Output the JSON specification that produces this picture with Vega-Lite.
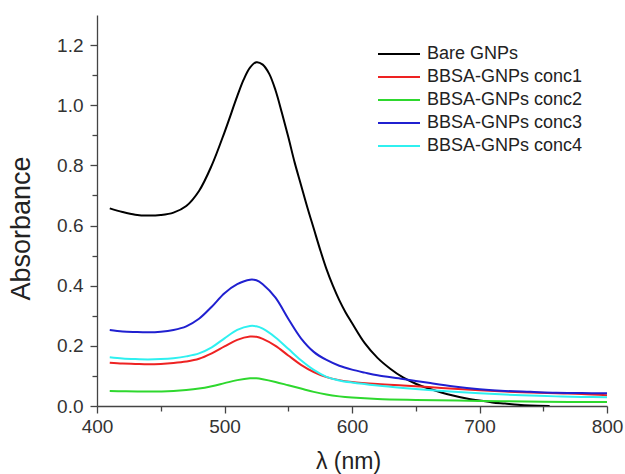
{
  "$schema": "https://vega.github.io/schema/vega-lite/v6.json",
  "width": 510,
  "height": 391,
  "autosize": "none",
  "padding": {"left": 97, "top": 15, "right": 18, "bottom": 68},
  "background": "white",
  "config": {
    "view": {"stroke": null},
    "font": "Liberation Sans",
    "axis": {"grid": false, "domainColor": "#444", "tickColor": "#444", "labelColor": "#333", "titleColor": "#222", "labelFont": "Liberation Sans", "titleFont": "Liberation Sans", "titleFontWeight": "normal", "labelFontSize": 19, "domainWidth": 1.3, "tickWidth": 1.3, "labelFlush": false}
  },
  "datasets": {
    "spectra": [
      {"s": "Bare GNPs", "x": 410, "y": 0.657}, {"s": "Bare GNPs", "x": 420, "y": 0.645}, {"s": "Bare GNPs", "x": 430, "y": 0.636}, {"s": "Bare GNPs", "x": 440, "y": 0.633}, {"s": "Bare GNPs", "x": 450, "y": 0.635}, {"s": "Bare GNPs", "x": 460, "y": 0.643}, {"s": "Bare GNPs", "x": 470, "y": 0.665}, {"s": "Bare GNPs", "x": 480, "y": 0.715}, {"s": "Bare GNPs", "x": 490, "y": 0.80}, {"s": "Bare GNPs", "x": 500, "y": 0.91}, {"s": "Bare GNPs", "x": 510, "y": 1.03}, {"s": "Bare GNPs", "x": 515, "y": 1.085}, {"s": "Bare GNPs", "x": 520, "y": 1.125}, {"s": "Bare GNPs", "x": 525, "y": 1.143}, {"s": "Bare GNPs", "x": 530, "y": 1.135}, {"s": "Bare GNPs", "x": 535, "y": 1.105}, {"s": "Bare GNPs", "x": 540, "y": 1.05}, {"s": "Bare GNPs", "x": 545, "y": 0.975}, {"s": "Bare GNPs", "x": 550, "y": 0.895}, {"s": "Bare GNPs", "x": 555, "y": 0.81}, {"s": "Bare GNPs", "x": 560, "y": 0.735}, {"s": "Bare GNPs", "x": 565, "y": 0.66}, {"s": "Bare GNPs", "x": 570, "y": 0.59}, {"s": "Bare GNPs", "x": 575, "y": 0.52}, {"s": "Bare GNPs", "x": 580, "y": 0.455}, {"s": "Bare GNPs", "x": 585, "y": 0.4}, {"s": "Bare GNPs", "x": 590, "y": 0.352}, {"s": "Bare GNPs", "x": 595, "y": 0.311}, {"s": "Bare GNPs", "x": 600, "y": 0.276}, {"s": "Bare GNPs", "x": 610, "y": 0.209}, {"s": "Bare GNPs", "x": 620, "y": 0.16}, {"s": "Bare GNPs", "x": 630, "y": 0.124}, {"s": "Bare GNPs", "x": 640, "y": 0.095}, {"s": "Bare GNPs", "x": 650, "y": 0.074}, {"s": "Bare GNPs", "x": 660, "y": 0.058}, {"s": "Bare GNPs", "x": 670, "y": 0.045}, {"s": "Bare GNPs", "x": 680, "y": 0.034}, {"s": "Bare GNPs", "x": 690, "y": 0.025}, {"s": "Bare GNPs", "x": 700, "y": 0.018}, {"s": "Bare GNPs", "x": 710, "y": 0.012}, {"s": "Bare GNPs", "x": 720, "y": 0.008}, {"s": "Bare GNPs", "x": 730, "y": 0.004}, {"s": "Bare GNPs", "x": 740, "y": 0.0015}, {"s": "Bare GNPs", "x": 755, "y": 0.0},

      {"s": "BBSA-GNPs conc1", "x": 410, "y": 0.144}, {"s": "BBSA-GNPs conc1", "x": 420, "y": 0.141}, {"s": "BBSA-GNPs conc1", "x": 430, "y": 0.14}, {"s": "BBSA-GNPs conc1", "x": 440, "y": 0.139}, {"s": "BBSA-GNPs conc1", "x": 450, "y": 0.14}, {"s": "BBSA-GNPs conc1", "x": 460, "y": 0.143}, {"s": "BBSA-GNPs conc1", "x": 470, "y": 0.148}, {"s": "BBSA-GNPs conc1", "x": 480, "y": 0.157}, {"s": "BBSA-GNPs conc1", "x": 490, "y": 0.175}, {"s": "BBSA-GNPs conc1", "x": 500, "y": 0.198}, {"s": "BBSA-GNPs conc1", "x": 510, "y": 0.22}, {"s": "BBSA-GNPs conc1", "x": 520, "y": 0.231}, {"s": "BBSA-GNPs conc1", "x": 525, "y": 0.23}, {"s": "BBSA-GNPs conc1", "x": 530, "y": 0.223}, {"s": "BBSA-GNPs conc1", "x": 540, "y": 0.2}, {"s": "BBSA-GNPs conc1", "x": 550, "y": 0.168}, {"s": "BBSA-GNPs conc1", "x": 560, "y": 0.137}, {"s": "BBSA-GNPs conc1", "x": 570, "y": 0.113}, {"s": "BBSA-GNPs conc1", "x": 580, "y": 0.096}, {"s": "BBSA-GNPs conc1", "x": 590, "y": 0.086}, {"s": "BBSA-GNPs conc1", "x": 600, "y": 0.08}, {"s": "BBSA-GNPs conc1", "x": 620, "y": 0.073}, {"s": "BBSA-GNPs conc1", "x": 640, "y": 0.068}, {"s": "BBSA-GNPs conc1", "x": 660, "y": 0.063}, {"s": "BBSA-GNPs conc1", "x": 680, "y": 0.057}, {"s": "BBSA-GNPs conc1", "x": 700, "y": 0.052}, {"s": "BBSA-GNPs conc1", "x": 720, "y": 0.048}, {"s": "BBSA-GNPs conc1", "x": 740, "y": 0.045}, {"s": "BBSA-GNPs conc1", "x": 760, "y": 0.042}, {"s": "BBSA-GNPs conc1", "x": 780, "y": 0.04}, {"s": "BBSA-GNPs conc1", "x": 800, "y": 0.036},

      {"s": "BBSA-GNPs conc2", "x": 410, "y": 0.05}, {"s": "BBSA-GNPs conc2", "x": 420, "y": 0.049}, {"s": "BBSA-GNPs conc2", "x": 440, "y": 0.048}, {"s": "BBSA-GNPs conc2", "x": 460, "y": 0.05}, {"s": "BBSA-GNPs conc2", "x": 470, "y": 0.053}, {"s": "BBSA-GNPs conc2", "x": 480, "y": 0.058}, {"s": "BBSA-GNPs conc2", "x": 490, "y": 0.066}, {"s": "BBSA-GNPs conc2", "x": 500, "y": 0.076}, {"s": "BBSA-GNPs conc2", "x": 510, "y": 0.086}, {"s": "BBSA-GNPs conc2", "x": 520, "y": 0.092}, {"s": "BBSA-GNPs conc2", "x": 525, "y": 0.092}, {"s": "BBSA-GNPs conc2", "x": 530, "y": 0.089}, {"s": "BBSA-GNPs conc2", "x": 540, "y": 0.08}, {"s": "BBSA-GNPs conc2", "x": 550, "y": 0.069}, {"s": "BBSA-GNPs conc2", "x": 560, "y": 0.058}, {"s": "BBSA-GNPs conc2", "x": 570, "y": 0.047}, {"s": "BBSA-GNPs conc2", "x": 580, "y": 0.038}, {"s": "BBSA-GNPs conc2", "x": 590, "y": 0.032}, {"s": "BBSA-GNPs conc2", "x": 600, "y": 0.028}, {"s": "BBSA-GNPs conc2", "x": 620, "y": 0.023}, {"s": "BBSA-GNPs conc2", "x": 650, "y": 0.02}, {"s": "BBSA-GNPs conc2", "x": 700, "y": 0.017}, {"s": "BBSA-GNPs conc2", "x": 750, "y": 0.014}, {"s": "BBSA-GNPs conc2", "x": 800, "y": 0.013},

      {"s": "BBSA-GNPs conc3", "x": 410, "y": 0.253}, {"s": "BBSA-GNPs conc3", "x": 420, "y": 0.248}, {"s": "BBSA-GNPs conc3", "x": 430, "y": 0.246}, {"s": "BBSA-GNPs conc3", "x": 440, "y": 0.245}, {"s": "BBSA-GNPs conc3", "x": 450, "y": 0.247}, {"s": "BBSA-GNPs conc3", "x": 460, "y": 0.253}, {"s": "BBSA-GNPs conc3", "x": 470, "y": 0.265}, {"s": "BBSA-GNPs conc3", "x": 480, "y": 0.29}, {"s": "BBSA-GNPs conc3", "x": 490, "y": 0.33}, {"s": "BBSA-GNPs conc3", "x": 500, "y": 0.375}, {"s": "BBSA-GNPs conc3", "x": 510, "y": 0.405}, {"s": "BBSA-GNPs conc3", "x": 520, "y": 0.42}, {"s": "BBSA-GNPs conc3", "x": 525, "y": 0.418}, {"s": "BBSA-GNPs conc3", "x": 530, "y": 0.405}, {"s": "BBSA-GNPs conc3", "x": 540, "y": 0.36}, {"s": "BBSA-GNPs conc3", "x": 550, "y": 0.29}, {"s": "BBSA-GNPs conc3", "x": 560, "y": 0.225}, {"s": "BBSA-GNPs conc3", "x": 570, "y": 0.18}, {"s": "BBSA-GNPs conc3", "x": 580, "y": 0.153}, {"s": "BBSA-GNPs conc3", "x": 590, "y": 0.134}, {"s": "BBSA-GNPs conc3", "x": 600, "y": 0.121}, {"s": "BBSA-GNPs conc3", "x": 610, "y": 0.111}, {"s": "BBSA-GNPs conc3", "x": 620, "y": 0.102}, {"s": "BBSA-GNPs conc3", "x": 640, "y": 0.09}, {"s": "BBSA-GNPs conc3", "x": 660, "y": 0.077}, {"s": "BBSA-GNPs conc3", "x": 680, "y": 0.065}, {"s": "BBSA-GNPs conc3", "x": 700, "y": 0.056}, {"s": "BBSA-GNPs conc3", "x": 720, "y": 0.05}, {"s": "BBSA-GNPs conc3", "x": 740, "y": 0.047}, {"s": "BBSA-GNPs conc3", "x": 760, "y": 0.044}, {"s": "BBSA-GNPs conc3", "x": 780, "y": 0.043}, {"s": "BBSA-GNPs conc3", "x": 800, "y": 0.042},

      {"s": "BBSA-GNPs conc4", "x": 410, "y": 0.162}, {"s": "BBSA-GNPs conc4", "x": 420, "y": 0.158}, {"s": "BBSA-GNPs conc4", "x": 430, "y": 0.156}, {"s": "BBSA-GNPs conc4", "x": 440, "y": 0.155}, {"s": "BBSA-GNPs conc4", "x": 450, "y": 0.156}, {"s": "BBSA-GNPs conc4", "x": 460, "y": 0.159}, {"s": "BBSA-GNPs conc4", "x": 470, "y": 0.165}, {"s": "BBSA-GNPs conc4", "x": 480, "y": 0.175}, {"s": "BBSA-GNPs conc4", "x": 490, "y": 0.195}, {"s": "BBSA-GNPs conc4", "x": 500, "y": 0.225}, {"s": "BBSA-GNPs conc4", "x": 510, "y": 0.253}, {"s": "BBSA-GNPs conc4", "x": 520, "y": 0.266}, {"s": "BBSA-GNPs conc4", "x": 525, "y": 0.265}, {"s": "BBSA-GNPs conc4", "x": 530, "y": 0.257}, {"s": "BBSA-GNPs conc4", "x": 540, "y": 0.228}, {"s": "BBSA-GNPs conc4", "x": 550, "y": 0.19}, {"s": "BBSA-GNPs conc4", "x": 560, "y": 0.152}, {"s": "BBSA-GNPs conc4", "x": 570, "y": 0.12}, {"s": "BBSA-GNPs conc4", "x": 580, "y": 0.097}, {"s": "BBSA-GNPs conc4", "x": 590, "y": 0.085}, {"s": "BBSA-GNPs conc4", "x": 600, "y": 0.078}, {"s": "BBSA-GNPs conc4", "x": 620, "y": 0.068}, {"s": "BBSA-GNPs conc4", "x": 640, "y": 0.06}, {"s": "BBSA-GNPs conc4", "x": 660, "y": 0.053}, {"s": "BBSA-GNPs conc4", "x": 680, "y": 0.047}, {"s": "BBSA-GNPs conc4", "x": 700, "y": 0.042}, {"s": "BBSA-GNPs conc4", "x": 720, "y": 0.038}, {"s": "BBSA-GNPs conc4", "x": 740, "y": 0.035}, {"s": "BBSA-GNPs conc4", "x": 760, "y": 0.032}, {"s": "BBSA-GNPs conc4", "x": 780, "y": 0.03}, {"s": "BBSA-GNPs conc4", "x": 800, "y": 0.029}
    ]
  },
  "data": {"name": "spectra"},
  "mark": {"type": "line", "interpolate": "catmull-rom", "strokeWidth": 2, "clip": true},
  "encoding": {
    "x": {
      "field": "x", "type": "quantitative",
      "scale": {"domain": [400, 800], "nice": false, "zero": false},
      "axis": {
        "title": "λ (nm)", "titleFontSize": 23, "titleX": 251, "titleY": 62, "titleBaseline": "alphabetic",
        "values": [400, 450, 500, 550, 600, 650, 700, 750, 800],
        "labelExpr": "datum.value % 100 === 0 ? format(datum.value, 'd') : ''",
        "tickSize": {"condition": {"test": "datum.value % 100 === 0", "value": 7}, "value": 5},
        "labelPadding": 4
      }
    },
    "y": {
      "field": "y", "type": "quantitative",
      "scale": {"domain": [0, 1.3], "nice": false},
      "axis": {
        "title": "Absorbance", "titleFontSize": 27, "titleX": -76, "titleY": 213, "titleAlign": "center", "titleBaseline": "middle", "titleAngle": -90,
        "values": [0, 0.1, 0.2, 0.3, 0.4, 0.5, 0.6, 0.7, 0.8, 0.9, 1.0, 1.1, 1.2],
        "labelExpr": "round(datum.value * 10) % 2 === 0 ? format(datum.value, '.1f') : ''",
        "tickSize": {"condition": {"test": "round(datum.value * 10) % 2 === 0", "value": 7}, "value": 5},
        "labelPadding": 7
      }
    },
    "color": {
      "field": "s", "type": "nominal",
      "scale": {
        "domain": ["Bare GNPs", "BBSA-GNPs conc1", "BBSA-GNPs conc2", "BBSA-GNPs conc3", "BBSA-GNPs conc4"],
        "range": ["#000000", "#ee2222", "#2ed82e", "#2020d0", "#2ff0f0"]
      },
      "legend": {
        "title": null, "orient": "none", "legendX": 280, "legendY": 29,
        "symbolType": "stroke", "symbolSize": 1764, "symbolStrokeWidth": 2,
        "labelFontSize": 18, "labelColor": "#222", "labelFont": "Liberation Sans", "labelOffset": 6,
        "clipHeight": 20, "rowPadding": 3
      }
    }
  }
}
